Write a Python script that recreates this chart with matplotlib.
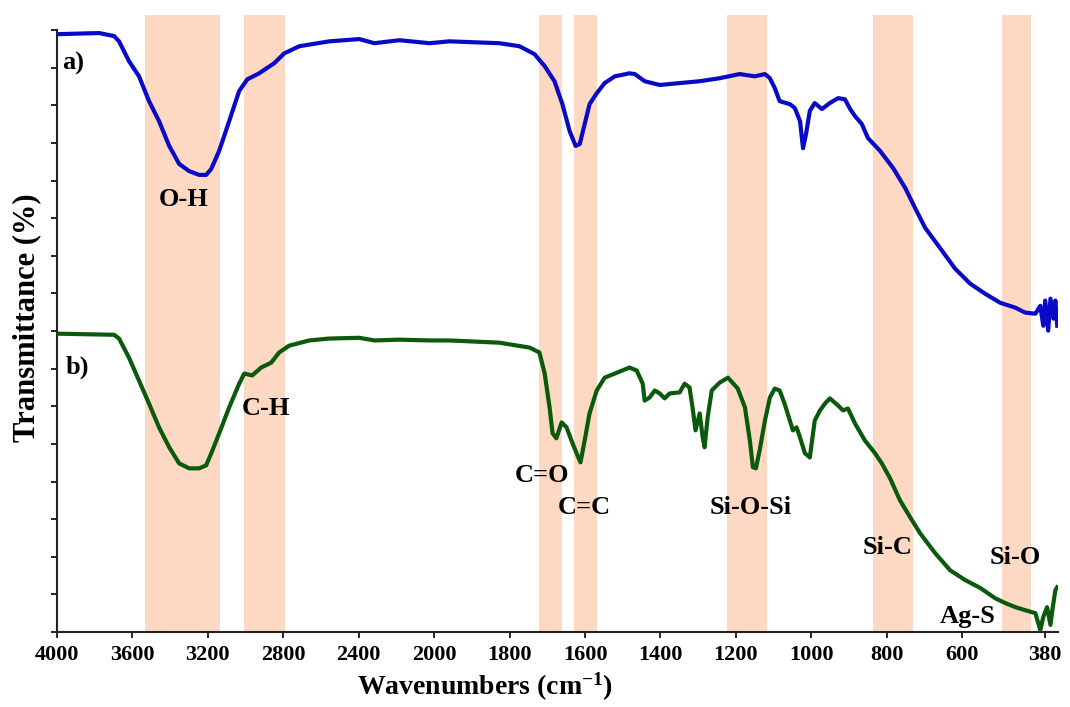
"""FTIR spectra of two samples with shaded band assignments."""

import matplotlib
matplotlib.use("Agg")
import matplotlib.pyplot as plt
import numpy as np

plt.rcParams["font.family"] = ["Liberation Serif", "DejaVu Serif"]
plt.rcParams["font.weight"] = "bold"
plt.rcParams["mathtext.fontset"] = "custom"
plt.rcParams["mathtext.rm"] = "Liberation Serif:bold"
plt.rcParams["mathtext.default"] = "rm"

# spectrum a) (blue)
wn_a = [4000, 3777, 3697, 3671, 3618, 3565, 3512, 3459, 3405, 3352, 3299, 3246,
        3209, 3182, 3140, 3087, 3034, 2991, 2928, 2848, 2795, 2715, 2556, 2397,
        2317, 2184, 2025, 1960, 1827, 1774, 1734, 1707, 1681, 1660, 1641, 1625,
        1614, 1601, 1588, 1569, 1548, 1521, 1482, 1468, 1442, 1402, 1349, 1296,
        1243, 1190, 1150, 1123, 1110, 1097, 1084, 1057, 1044, 1030, 1022, 1014,
        1004, 991, 972, 951, 929, 911, 897, 884, 866, 850, 818, 783, 751, 725,
        698, 659, 619, 579, 539, 499, 459, 433, 406, 393, 385, 380, 372, 366,
        358, 353, 348]
tr_a = [158.9, 159.2, 158.4, 157.0, 151.7, 147.7, 141.1, 135.8, 129.2, 124.4,
        122.5, 121.5, 121.5, 123.1, 127.9, 135.8, 143.8, 146.9, 148.5, 151.2,
        153.8, 155.7, 157.0, 157.6, 156.5, 157.3, 156.5, 157.0, 156.5, 155.7,
        153.6, 150.4, 146.4, 140.3, 133.2, 129.2, 129.7, 135.0, 140.3, 143.2,
        145.9, 147.7, 148.5, 148.3, 146.4, 145.4, 145.9, 146.4, 147.2, 148.3,
        147.7, 148.3, 147.2, 144.6, 141.1, 140.3, 139.3, 135.8, 128.6, 132.4,
        138.5, 140.6, 139.0, 140.6, 141.9, 141.6, 139.0, 137.1, 135.0, 131.3,
        127.9, 123.3, 118.0, 112.7, 107.4, 102.1, 96.6, 92.6, 89.9, 87.5, 86.2,
        84.9, 84.6, 86.7, 81.4, 88.1, 80.1, 88.6, 83.3, 88.1, 81.4]

# spectrum b) (green)
wn_b = [4000, 3697, 3671, 3618, 3565, 3512, 3459, 3405, 3352, 3299, 3246, 3209,
        3182, 3140, 3087, 3034, 3007, 2965, 2917, 2864, 2822, 2769, 2662, 2556,
        2397, 2317, 2184, 2025, 1960, 1827, 1747, 1721, 1707, 1694, 1686, 1676,
        1662, 1649, 1636, 1620, 1612, 1601, 1588, 1569, 1548, 1521, 1482, 1463,
        1447, 1442, 1429, 1415, 1402, 1389, 1376, 1349, 1336, 1323, 1315, 1307,
        1296, 1288, 1283, 1275, 1264, 1243, 1221, 1195, 1176, 1163, 1155, 1147,
        1137, 1123, 1110, 1097, 1084, 1071, 1057, 1049, 1039, 1030, 1017, 1004,
        998, 991, 977, 964, 951, 929, 916, 903, 884, 858, 831, 813, 791, 765,
        738, 712, 672, 632, 592, 552, 513, 486, 459, 433, 406, 393, 385, 375,
        366, 361, 353, 348]
tr_b = [79.3, 79.0, 78.0, 72.9, 66.8, 60.7, 54.4, 49.1, 44.8, 43.5, 43.5, 44.3,
        47.5, 52.8, 59.7, 66.0, 68.7, 68.2, 70.3, 71.6, 74.3, 76.1, 77.5, 78.0,
        78.2, 77.5, 77.7, 77.5, 77.5, 76.9, 75.6, 74.3, 68.7, 59.7, 52.8, 51.5,
        55.7, 54.4, 50.9, 46.9, 45.1, 50.9, 58.1, 64.2, 67.6, 68.7, 70.3, 69.5,
        66.0, 61.5, 62.3, 64.2, 63.4, 62.1, 63.4, 63.7, 66.0, 65.0, 59.7, 53.6,
        58.1, 51.7, 49.1, 57.0, 64.2, 66.3, 67.6, 64.7, 59.7, 50.9, 43.8, 43.5,
        48.3, 56.2, 62.3, 64.7, 64.2, 60.7, 56.2, 53.6, 54.4, 51.7, 47.5, 46.4,
        50.9, 56.2, 58.9, 60.7, 62.1, 60.2, 58.9, 59.4, 55.4, 50.9, 47.5, 44.8,
        40.8, 35.0, 30.5, 26.3, 21.0, 16.4, 13.8, 11.7, 9.0, 7.7, 6.6, 5.8, 5.0,
        0.5, 4.0, 6.6, 1.9, 5.8, 11.1, 11.9]

# shaded assignment bands (high, low wavenumber)
bands = [(3533, 3135), (3007, 2790), (1723, 1662), (1628, 1567),
         (1224, 1118), (837, 731), (494, 417)]

# band labels: text, wavenumber, transmittance
labels = [("O-H", 3326, 114.9), ("C-H", 2890, 59.4), ("C=O", 1713, 41.6),
          ("C=C", 1601, 33.2), ("Si-O-Si", 1161, 33.2), ("Si-C", 797, 22.5),
          ("Si-O", 460, 19.9), ("Ag-S", 585, 4.2)]

xticks = [4000, 3600, 3200, 2800, 2400, 2000, 1800, 1600, 1400, 1200, 1000, 800, 600, 380]


def fwd(w):
    w = np.asarray(w, dtype=float)
    return np.where(w >= 2000, w, 2 * w - 2000)


def inv(u):
    u = np.asarray(u, dtype=float)
    return np.where(u >= 2000, u, (u + 2000) / 2)


fig = plt.figure(figsize=(10.7, 7.07), dpi=100)
ax = fig.add_axes([57 / 1070, 1 - 632 / 707, 1001 / 1070, 617 / 707])
ax.set_xscale("function", functions=(fwd, inv))

for hi, lo in bands:
    ax.axvspan(lo, hi, color="#fdd9c3", lw=0, zorder=0)

ax.plot(wn_a, tr_a, color="#0a0ac6", lw=3, zorder=3)
ax.plot(wn_b, tr_b, color="#0b5a0b", lw=3, zorder=3)

for txt, w, t in labels:
    ax.text(w, t, txt, ha="center", va="center", fontsize=19, fontweight="bold", zorder=4)
ax.text(3973, 151.2, "a)", ha="left", va="center", fontsize=19, fontweight="bold")
ax.text(3952, 70.3, "b)", ha="left", va="center", fontsize=19, fontweight="bold")

ax.set_xlim(4000, 346)
ax.set_ylim(0, 164)
ax.set_xticks(xticks)
ax.set_xticklabels([str(v) for v in xticks])
ax.xaxis.set_minor_locator(matplotlib.ticker.NullLocator())
ax.set_yticks(np.arange(0, 161, 10))
ax.set_yticklabels([])
ax.tick_params(axis="x", direction="out", length=4, width=1.2, pad=5, labelsize=16)
ax.tick_params(axis="y", direction="out", length=4, width=1.2)
for lab in ax.get_xticklabels():
    lab.set_fontweight("bold")

for side in ("top", "right"):
    ax.spines[side].set_visible(False)
for side in ("left", "bottom"):
    ax.spines[side].set_linewidth(1.5)
    ax.spines[side].set_color("#222222")
ax.spines["left"].set_bounds(0, 160)

fig.text(485 / 1070, 1 - 687 / 707, "Wavenumbers (cm$^{-1}$)", ha="center", va="center",
         fontsize=20, fontweight="bold")
fig.text(27 / 1070, 1 - 318 / 707, "Transmittance (%)", ha="center", va="center",
         rotation=90, fontsize=22, fontweight="bold")

fig.savefig("out.png", dpi=100)
